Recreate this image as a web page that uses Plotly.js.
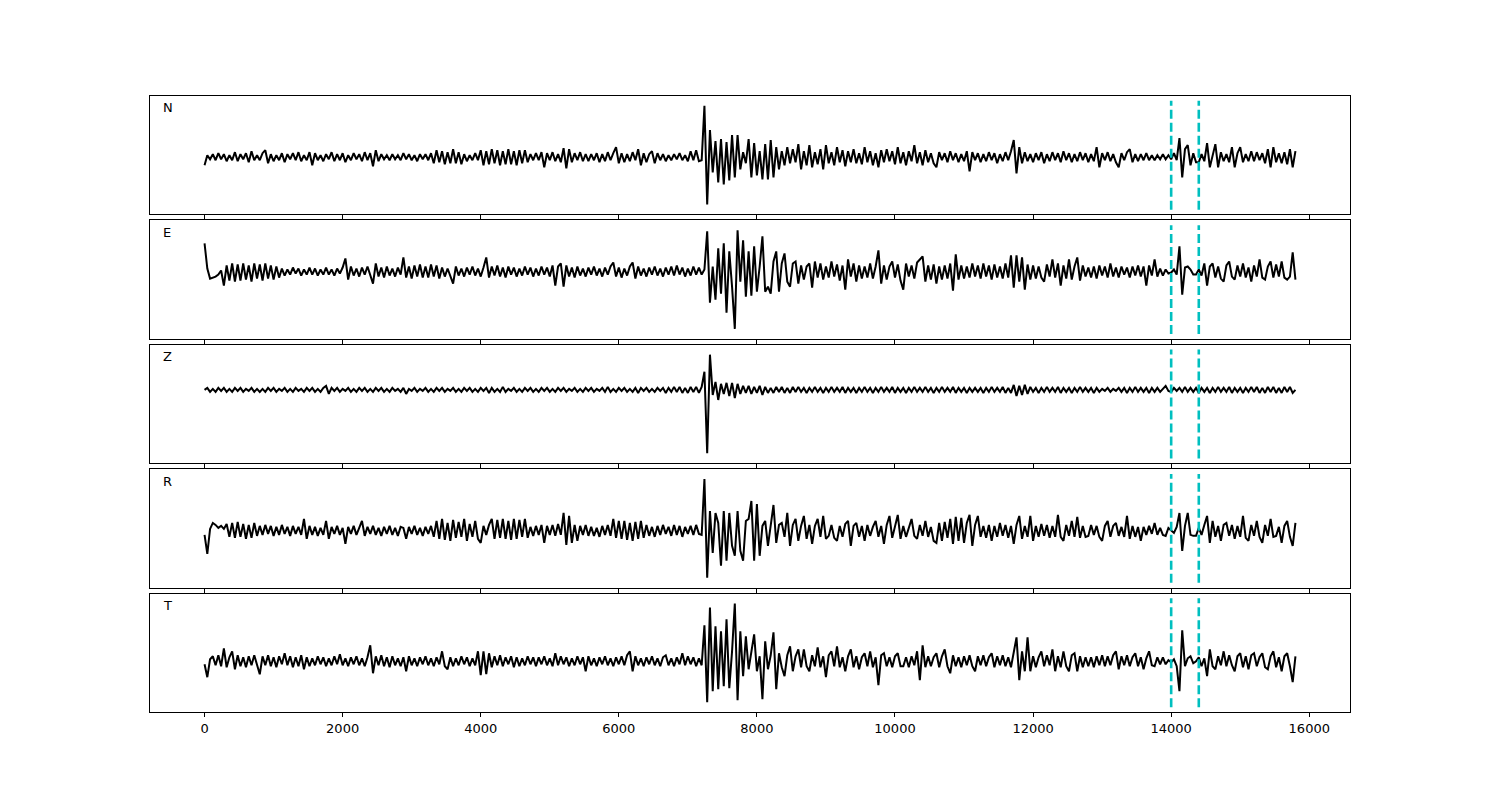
<!DOCTYPE html>
<html>
<head>
<meta charset="utf-8">
<script src="https://cdn.plot.ly/plotly-3.0.1.min.js"></script>
<style>html,body{margin:0;padding:0;background:#fff}</style>
</head>
<body>
<div id="chart" style="width:1500px;height:800px"></div>
<script>
// ---- data (amplitudes, one value per 40 samples) ----
const sampleStart = 0;
const sampleStep = 40;
const channels = ['N', 'E', 'Z', 'R', 'T'];
const pickTimes = [14000, 14400];
const tickValues = [0, 2000, 4000, 6000, 8000, 10000, 12000, 14000, 16000];

const traceN = [
 -8,2,-2,3,-3,4,-2,3,-4,2,-3,5,-4,3,-2,4,-5,6,-3,2,
 -3,4,7,-6,3,-4,2,-3,4,-5,3,-2,4,-3,5,-4,2,-3,5,-8,
 4,-3,2,-4,3,-2,5,-4,3,-3,4,-5,2,-3,4,-2,3,-4,5,-3,
 4,-9,7,-4,3,-2,2,-3,3,-2,2,-3,4,-2,3,-3,2,-4,3,-2,
 3,-3,4,-6,7,-5,6,-7,5,-6,8,-6,5,-7,3,-4,2,-3,4,-3,
 7,-8,6,-7,8,-6,7,-8,6,-7,8,-7,6,-8,7,-6,7,-5,3,-3,
 4,-3,5,-10,4,-3,5,-4,3,-5,9,-11,8,-5,4,-3,5,-4,3,-4,
 3,-3,4,-5,3,-4,5,-3,4,10,-6,4,-5,3,-4,5,-3,8,-8,4,
 -5,3,6,-6,4,-3,3,-4,2,-3,3,-2,4,-3,2,-4,6,-3,7,-4,
 -3,51,-47,27,-15,16,-25,18,-27,15,-23,22,-20,22,-12,5,-6,18,-20,14,
 -18,6,-22,13,-22,17,-20,10,-12,6,-8,10,-6,8,-5,13,-12,6,-8,12,
 -10,5,-7,8,-12,12,-6,5,-8,10,-5,7,-9,6,-5,8,-6,4,-7,10,
 -5,6,-8,4,-10,7,-5,8,-4,6,-7,10,-6,5,-8,6,-4,12,-6,5,
 -8,7,-5,4,-6,-10,5,-3,4,-5,6,-3,4,-5,3,-4,6,-14,5,-3,
 4,-5,3,-4,5,-3,4,-6,3,-4,5,-3,6,17,-16,10,-6,5,-4,3,
 -5,4,-3,5,-6,3,-4,5,-3,4,-5,6,-3,4,-5,3,-4,5,-3,4,
 -5,3,-4,10,-10,4,-3,5,-4,3,-5,-10,4,-3,5,8,-5,3,-4,3,
 -3,4,-3,2,-3,2,-2,3,-2,2,-2,4,-3,19,-20,8,12,-8,4,-5,
 -5,3,-4,14,-10,3,13,-10,5,-4,3,-5,10,-10,4,10,-5,3,-4,6,
 -4,5,-3,4,-6,8,-10,10,-5,4,-6,5,-7,8,-10,6
];

const traceE = [
 28,3,-7,-6,-5,-3,1,-14,6,-9,8,-10,7,-9,8,-8,6,-10,8,-7,
 7,-9,8,-7,6,-8,5,-6,3,-4,2,-3,4,-2,3,-4,2,-3,4,-3,
 3,-4,2,-3,4,-3,2,-4,3,-2,4,13,-8,5,-4,3,-5,4,-3,5,
 -4,-12,8,-5,4,-6,5,-4,3,-5,4,-3,14,-6,5,-7,6,-5,7,-6,
 5,-6,7,-5,6,-7,4,-5,3,-4,-12,5,-4,3,-5,4,-3,5,-4,3,
 -5,4,14,-6,5,-4,6,-5,4,-6,5,-3,4,-5,3,-4,5,-3,4,-5,
 3,-4,5,-3,4,-5,6,-14,5,8,-15,6,-5,4,-6,5,-4,3,-5,4,
 -3,5,-4,3,-5,4,-3,5,9,-5,4,-6,3,-4,5,9,-7,5,-4,3,
 -5,4,-3,5,-4,3,-5,4,-3,5,-4,6,-3,4,-5,3,-4,5,-3,4,
 -3,2,40,-31,5,-28,23,-22,28,-41,20,-15,-57,41,-10,31,-25,20,-24,25,
 -20,5,35,-20,-15,-22,10,20,-20,8,18,-10,-15,8,10,-12,6,-8,5,8,
 -16,10,-6,8,-8,5,-6,10,-5,7,-9,6,-18,12,-5,8,-10,6,-7,5,
 -6,8,-7,5,21,-12,6,-8,5,10,-6,7,-9,-18,8,-5,6,-7,9,12,
 15,-10,6,-8,7,-12,5,-8,6,-7,8,-19,17,-8,6,-7,5,-6,8,-5,
 6,-7,8,-5,6,-8,7,-6,5,-7,8,-6,16,-16,16,-10,14,-18,7,-8,
 6,-7,5,-6,-10,7,-5,12,-6,8,-14,6,-7,12,-8,5,14,-9,6,-5,
 4,-6,5,-7,6,-4,5,-6,8,-5,4,-6,5,-3,4,-6,5,-4,6,-5,
 5,-14,6,-4,12,-5,3,-4,2,-2,-1,2,-3,25,-23,4,5,2,-3,-3,
 2,-4,8,-14,5,8,-6,5,-7,-10,6,10,-5,-8,6,-5,8,-6,4,-10,
 6,-5,12,-6,-8,5,10,-6,7,-5,10,-6,-8,-5,19,-8
];

const traceZ = [
 0,2,-2,1,-2,2,-1,2,-2,1,-2,2,-1,2,-2,1,-1,2,-2,1,
 -2,1,-2,2,-1,2,-2,1,-1,2,-2,1,-2,2,-1,1,-2,2,-1,2,
 -2,1,-2,2,4,-4,2,-1,2,-2,1,-1,2,-2,1,-2,2,-1,2,-2,
 1,-2,2,-1,2,-2,1,-2,2,-1,1,-2,2,-4,1,-1,2,-2,1,-1,
 2,-2,1,-2,2,-1,2,-2,1,-1,2,-2,1,-2,2,-1,2,-2,1,-2,
 2,-1,2,-3,2,-2,1,-2,3,-2,1,-1,2,-2,1,-2,2,-1,2,-2,
 1,-2,2,-1,2,-2,1,-2,2,-1,2,-2,1,-1,2,-2,1,-2,2,-1,
 2,-2,1,-1,2,-2,3,-2,1,-2,2,-1,2,-2,1,-2,2,-3,2,-1,
 2,-2,1,-2,2,-1,2,-3,2,-2,3,-2,3,-3,2,-3,3,-2,3,-3,
 3,18,-63,35,-5,8,-10,6,-4,7,-6,7,-8,6,-4,4,-3,4,-4,3,
 -3,4,-5,3,-3,2,-3,3,-2,3,-3,2,-3,3,-2,3,-2,2,-3,2,
 -2,3,-2,2,-3,2,-2,3,-2,2,-2,3,-3,2,-2,2,-3,2,-2,3,
 -2,2,-3,2,-2,3,-2,2,-2,3,-3,2,-2,2,-3,2,-2,3,-2,2,
 -2,3,-2,2,-3,2,-2,3,-2,2,-2,3,-3,2,-2,2,-3,2,-2,2,
 -2,2,-3,2,-2,3,-2,2,-2,3,-3,2,-3,5,-6,4,-5,5,-4,3,
 -2,2,-3,2,-2,3,-2,2,-2,3,-3,2,-2,2,-3,2,-2,3,-2,2,
 -2,2,-3,2,-2,1,-1,2,-2,1,-1,2,-2,2,-3,2,-2,3,-2,2,
 -2,2,-3,2,-2,2,-2,1,4,-1,-2,2,-1,2,-2,3,-2,2,-2,2,
 -3,2,-2,2,-3,2,-2,3,-2,2,-2,3,-3,2,-2,2,-3,2,-2,3,
 -2,3,-3,2,-3,3,-2,3,-3,2,-3,3,-2,3,-3,0
];

const traceR = [
 -4,-23,2,8,6,3,5,2,7,-6,8,-7,9,-6,7,-8,6,-7,8,-5,
 5,-4,6,-3,5,-5,4,-4,6,-3,4,-5,5,-3,4,-4,12,-8,5,-4,
 4,-5,3,-4,10,-8,4,-3,5,-4,3,-13,4,-3,5,-4,3,10,-5,4,
 -3,5,-4,3,-5,4,-3,5,-4,3,-5,4,3,-8,4,-3,5,-4,3,-5,
 4,-3,5,-6,10,-8,12,-9,8,-10,11,-7,9,-6,12,-10,7,-6,10,-8,
 -12,5,-4,6,12,-8,11,-7,12,-8,10,-9,12,-8,11,-6,12,-7,4,-5,
 5,-4,6,-12,5,-4,6,-5,7,-4,18,-14,15,-12,6,-10,5,-4,6,-5,
 4,-5,3,-6,5,-4,6,-5,12,-7,10,-8,10,-9,8,-10,9,-8,10,-7,
 6,-5,4,-6,5,-4,6,-3,4,-5,6,-4,5,-6,4,-3,5,-4,6,-3,
 -4,52,-47,20,-22,18,8,-35,20,-30,18,-15,-25,20,-20,-30,10,12,30,-30,
 27,-25,5,10,-15,4,26,-12,6,8,-6,18,-15,6,12,-10,5,15,-8,6,
 -13,5,12,-6,15,-8,-5,6,-7,-10,5,-6,7,10,-15,5,8,-6,5,-10,
 6,-5,4,10,-6,5,-13,6,15,-7,6,16,-8,5,-6,4,12,-5,-8,6,
 -5,10,-6,4,-10,-12,8,-10,9,-7,12,-13,14,-10,13,-12,8,16,-15,6,
 15,-6,5,-7,6,-10,5,-6,8,-5,6,-7,5,-13,6,15,-8,5,-6,15,
 -10,5,-6,7,-5,6,-7,5,-6,16,-6,-10,6,-5,10,-6,14,-7,5,-6,
 -5,6,-4,5,-6,-10,5,10,-6,5,8,-5,4,-6,15,-8,5,-6,4,-10,
 4,-4,5,-3,8,-4,3,-4,-5,3,0,-2,4,18,-20,5,18,-4,-5,-5,
 3,-4,6,15,-12,10,-6,5,-10,6,8,-5,6,-8,5,-6,15,-7,-10,6,
 -5,10,-6,-12,6,-5,12,-6,-5,4,-12,5,10,-6,-15,8
];

const traceT = [
 -3,-16,2,5,-4,6,-5,13,-6,4,10,-8,6,-5,4,-6,5,-4,6,-5,
 -13,5,-4,6,-5,4,-6,5,-3,8,-4,5,-6,4,-5,6,-8,4,-5,3,
 -4,5,-3,4,-5,3,-4,5,-3,7,-4,3,-5,4,-3,5,-4,3,-5,4,
 16,-12,5,-4,6,-5,4,-6,5,-4,3,-5,4,-10,5,-4,3,-5,4,-3,
 5,-4,3,-5,4,-3,10,-5,-8,4,-5,3,-4,5,-3,4,-5,3,-4,10,
 -14,10,-13,8,-6,5,-4,6,-5,4,-3,5,-6,4,-5,3,-4,5,-3,4,
 -5,4,-3,5,-4,3,-5,8,-4,5,-3,4,-5,3,-4,5,-3,4,-10,5,
 -4,3,-5,4,-3,5,-4,3,-5,4,-3,5,-4,6,10,-10,5,-4,3,-5,
 4,-3,5,-4,3,-5,4,6,-4,3,-5,4,-3,8,-4,5,-3,4,-5,3,
 -4,36,-41,54,-30,35,-28,30,-25,42,-27,10,58,-39,30,-15,25,-8,10,27,
 -10,5,-38,20,-8,6,29,-28,8,-6,-15,6,15,-10,5,12,-6,12,-5,-10,
 6,-5,14,-6,5,-16,6,10,-5,15,-6,4,-10,5,12,-6,5,-8,4,8,
 -5,10,-6,4,-24,6,8,-5,4,-6,5,8,-5,-5,4,-6,5,-4,10,-19,
 16,-6,5,-5,4,8,-6,5,12,-5,-12,6,-5,4,-6,5,-4,6,-5,-10,
 5,-4,6,-5,4,8,-6,5,-4,6,-5,4,-6,8,24,-19,10,-10,24,-10,
 5,-6,4,10,-5,6,-4,12,-10,5,-6,10,-5,-10,6,8,-10,5,-6,4,
 -5,4,-6,5,-4,6,-5,5,-4,6,10,-8,5,-4,6,-5,4,8,-5,4,
 -8,3,10,-4,-5,4,-3,4,-3,1,-1,2,-5,-30,31,-5,3,5,-2,0,
 4,-5,3,-15,12,-5,-8,5,-4,10,-5,6,-4,-10,5,8,-6,5,-8,6,
 8,-5,4,8,-6,-8,5,10,-6,4,-10,5,8,-5,-21,5
];

const channelData = [traceN, traceE, traceZ, traceR, traceT];

// ---- figure ----
const W = 1500, H = 800;
const mL = 150, mR = 150, mT = 96, mB = 88;
const plotH = H - mT - mB;
const panelH = 118.4, panelGap = 6;
const font = {family: 'DejaVu Sans, sans-serif', size: 13, color: '#000'};

const traces = [];
const layout = {
  width: W, height: H,
  margin: {l: mL, r: mR, t: mT, b: mB, pad: 0},
  paper_bgcolor: '#fff', plot_bgcolor: '#fff',
  showlegend: false, hovermode: false,
  font: font,
  shapes: [], annotations: []
};

channelData.forEach((vals, k) => {
  const sfx = k === 0 ? '' : String(k + 1);
  const xs = vals.map((_, i) => sampleStart + i * sampleStep);
  traces.push({
    type: 'scatter', mode: 'lines', x: xs, y: vals,
    xaxis: 'x' + sfx, yaxis: 'y' + sfx,
    line: {color: '#000', width: 2}
  });
  const top = 1 - k * (panelH + panelGap) / plotH;
  const bot = Math.max(0, top - panelH / plotH);
  const mn = Math.min(...vals), mx = Math.max(...vals);
  const pad = 0.1 * (mx - mn);
  layout['xaxis' + sfx] = {
    anchor: 'y' + sfx, domain: [0, 1],
    range: [-790, 16590],
    matches: k === 0 ? undefined : 'x',
    showline: true, mirror: true, linecolor: '#000', linewidth: 1,
    ticks: 'outside', ticklen: 4, tickwidth: 1, tickcolor: '#000',
    tickmode: 'array', tickvals: tickValues,
    ticktext: tickValues.map(String),
    showticklabels: k === channelData.length - 1,
    tickfont: font,
    showgrid: false, zeroline: false
  };
  layout['yaxis' + sfx] = {
    anchor: 'x' + sfx, domain: [bot, top],
    range: [mn - pad, mx + pad],
    showline: true, mirror: true, linecolor: '#000', linewidth: 1,
    ticks: '', showticklabels: false, showgrid: false, zeroline: false
  };
  pickTimes.forEach(t => {
    layout.shapes.push({
      type: 'line', xref: 'x' + sfx, yref: 'y' + sfx + ' domain',
      x0: t, x1: t, y0: 0.04, y1: 0.96,
      line: {color: '#00BFBF', width: 2.6, dash: '9px,4px'}
    });
  });
  layout.annotations.push({
    xref: 'x' + sfx + ' domain', yref: 'y' + sfx + ' domain',
    x: 0.009, y: 0.9, xanchor: 'left', yanchor: 'middle',
    text: channels[k], showarrow: false, font: font
  });
});

Plotly.newPlot('chart', traces, layout, {staticPlot: true, displayModeBar: false});
</script>
</body>
</html>
